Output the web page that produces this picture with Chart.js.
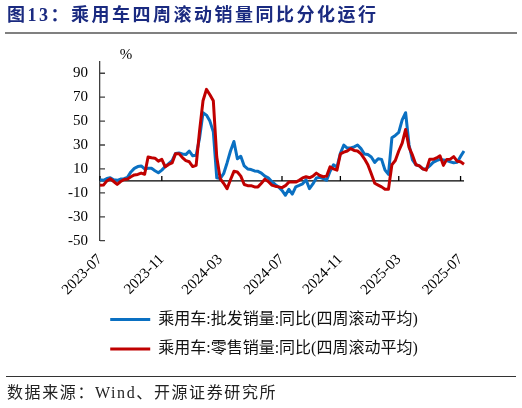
<!DOCTYPE html>
<html>
<head>
<meta charset="utf-8">
<script src="https://cdn.jsdelivr.net/npm/chart.js@4/dist/chart.umd.min.js"></script>
<style>
body { margin: 0; background: #fff; }
#wrap { position: relative; width: 522px; height: 408px; }
#grafico { position: absolute; left: 0; top: 0; }
#titulo { position: absolute; left: 7px; top: 3px; font: bold 18px "Liberation Serif", "Noto Sans CJK SC"; letter-spacing: 2.5px; color: #1a2a80; line-height: 24px; white-space: nowrap; }
#linhaTitulo { position: absolute; left: 5px; top: 32px; width: 512px; height: 2px; background: #808080; }
#linhaFonte { position: absolute; left: 6px; top: 376px; width: 510px; height: 1px; background: #333; }
#fonte { position: absolute; left: 7px; top: 383px; font: 16px "Liberation Serif", "Noto Sans CJK SC"; letter-spacing: 1.6px; color: #222; line-height: 20px; white-space: nowrap; }
</style>
</head>
<body>
<div id="wrap">
  <canvas id="grafico" width="522" height="408"></canvas>
  <div id="titulo">图13：乘用车四周滚动销量同比分化运行</div>
  <div id="linhaTitulo"></div>
  <div id="linhaFonte"></div>
  <div id="fonte">数据来源：Wind、开源证券研究所</div>
</div>
<script>
// Dados semanais (%)
const pifa = [1, 0.5, 2, 2.6, 1, 0.5, 1.5, 1.8, 3, 7.5,
    10.5, 12, 12.5, 10, 10.5, 10.5, 8.5, 6.8, 9, 12,
    14.5, 17, 23, 23.4, 22.5, 22, 25, 21, 21.5, 36,
    57, 55, 50, 41, 2.6, 2, 6, 15, 25, 33,
    18.5, 20.6, 12.5, 10, 9.5, 8.3, 8, 6.5, 4, 2.5,
    -0.5, -3, -5, -8, -12, -7, -11, -5, -3.8, -2.5,
    1, -6.5, -2.5, 2.5, 3, 2, 0.5, 8, 13.5, 11.5,
    23, 30, 27.5, 27.5, 28.5, 30, 27, 22.5, 22, 20,
    15.5, 18.5, 18, 9, 5.5, 36, 38, 40.5, 51, 57,
    30, 17.5, 13.5, 12.5, 10, 10, 12.5, 15.5, 17, 18,
    17.5, 17, 16, 15.1, 15.5, 20.5, 25];
const lingshou = [-3.7, -3.5, 0, 1.8, -0.5, -3, -0.5, 1.2, 1.5, 3.5,
    5, 5.4, 6.5, 5.5, 20, 19.3, 19, 16.5, 18, 11.8,
    13.8, 15, 22.8, 22.8, 19.5, 17, 16, 12, 13, 42,
    67, 76.5, 72, 67, 20, 2, -2, -6.5, 1, 8,
    7.5, 4, -3, -4, -4, -5, -5, -2, 1.5, -0.5,
    -3.5, -4.4, -5, -5.6, -4, -1, -1, -1, 0.5, 2.5,
    3.5, 2.6, 4, 6.5, 4.5, 3.5, 4, 11.8, 10, 9,
    22.5, 24, 25, 27, 25.5, 25, 22.5, 18.5, 13.5, 6,
    -2, -3.5, -5, -7, -7, 13.5, 17, 25, 31.5, 43,
    28, 21.5, 13.5, 12.5, 10, 9, 18, 18, 19.2, 21,
    13, 18, 18.2, 20.3, 16.5, 16, 14];
const xTickLabels = ['2023-07', '2023-11', '2024-03', '2024-07', '2024-11', '2025-03', '2025-07'];
const yTicks = [-50, -30, -10, 10, 30, 50, 70, 90];

// Semanas a partir de 2023-07-02
const semanas = [];
for (let i = 0; i < pifa.length; i++) {
    const d = new Date(Date.UTC(2023, 6, 2 + i * 7));
    semanas.push(d.toISOString().slice(0, 10));
}
const xTickIdx = xTickLabels.map(m => semanas.findIndex(s => s.startsWith(m)));

const serif = '"Liberation Serif", "Noto Sans CJK SC"';

// Linha do zero, marcas dos eixos e o "%"
const decoracao = {
    id: 'decoracao',
    beforeDatasetsDraw(chart) {
        const { ctx, chartArea, scales: { x, y } } = chart;
        const y0 = y.getPixelForValue(0);
        ctx.save();
        ctx.strokeStyle = '#000';
        ctx.lineWidth = 1.3;
        ctx.beginPath();
        ctx.moveTo(chartArea.left, y0);
        ctx.lineTo(chartArea.right, y0);
        x.ticks.forEach((t, i) => {
            const px = x.getPixelForTick(i);
            ctx.moveTo(px, y0);
            ctx.lineTo(px, y0 - 5);
        });
        ctx.stroke();
        ctx.strokeStyle = '#404040';
        ctx.beginPath();
        y.ticks.forEach((t, i) => {
            const py = y.getPixelForTick(i);
            ctx.moveTo(chartArea.left, py);
            ctx.lineTo(chartArea.left + 5, py);
        });
        ctx.stroke();
        ctx.fillStyle = '#000';
        ctx.font = '15px ' + serif;
        ctx.textAlign = 'center';
        ctx.textBaseline = 'middle';
        ctx.fillText('%', chartArea.left + 26, chartArea.top - 6);
        ctx.restore();
    }
};

new Chart(document.getElementById('grafico').getContext('2d'), {
    type: 'line',
    data: {
        labels: semanas,
        datasets: [
            {
                label: '乘用车:批发销量:同比(四周滚动平均)',
                data: pifa,
                borderColor: '#0a70c2',
                backgroundColor: '#0a70c2',
                borderWidth: 3,
                pointRadius: 0,
                order: 1
            },
            {
                label: '乘用车:零售销量:同比(四周滚动平均)',
                data: lingshou,
                borderColor: '#c00000',
                backgroundColor: '#c00000',
                borderWidth: 3,
                pointRadius: 0,
                order: 0
            }
        ]
    },
    options: {
        responsive: false,
        animation: false,
        layout: { padding: { top: 61.3, right: 58, bottom: 41, left: 64 } },
        elements: { line: { tension: 0, borderJoinStyle: 'round' } },
        plugins: {
            title: { display: false },
            tooltip: { enabled: false },
            legend: {
                position: 'bottom',
                labels: {
                    boxWidth: 40,
                    boxHeight: 3,
                    padding: 13.5,
                    color: '#111',
                    font: { family: serif, size: 16 },
                    generateLabels(chart) {
                        const itens = Chart.defaults.plugins.legend.labels.generateLabels(chart);
                        itens.forEach(it => { it.lineWidth = 0; it.fillStyle = it.strokeStyle; });
                        return itens.sort((a, b) => a.datasetIndex - b.datasetIndex);
                    }
                }
            }
        },
        scales: {
            x: {
                grid: { display: false, drawTicks: false },
                border: { display: false },
                afterBuildTicks: s => { s.ticks = xTickIdx.map(i => ({ value: i })); },
                afterFit: s => { s.height = 57.3; },
                ticks: {
                    autoSkip: false,
                    minRotation: 45,
                    maxRotation: 45,
                    padding: 10,
                    color: '#000',
                    font: { family: serif, size: 15 },
                    callback(value) { return this.getLabelForValue(value).slice(0, 7); }
                }
            },
            y: {
                min: -50,
                max: 100,
                grid: { display: false, drawTicks: false },
                border: { display: true, color: '#404040', width: 1.3 },
                afterBuildTicks: s => { s.ticks = yTicks.map(v => ({ value: v })); },
                afterFit: s => { s.width = 36; },
                ticks: {
                    padding: 12,
                    color: '#000',
                    font: { family: serif, size: 15 },
                    callback: v => String(v)
                }
            }
        }
    },
    plugins: [decoracao]
});
</script>
</body>
</html>
